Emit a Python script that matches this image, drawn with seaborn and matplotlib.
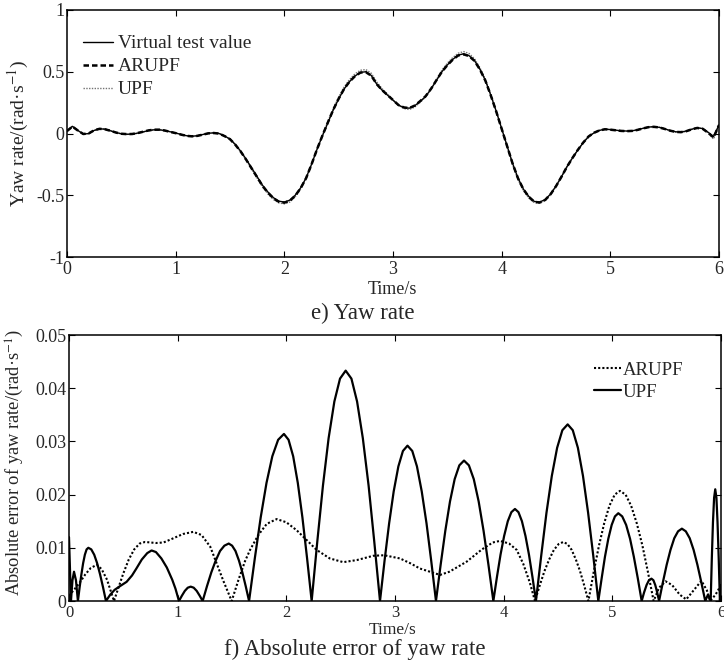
import numpy as np
import pandas as pd
import matplotlib
matplotlib.use("Agg")
import matplotlib.pyplot as plt
import seaborn as sns

# ---------------- data: top panel (yaw rate) ----------------
time_top = np.linspace(0, 6, 121)
virtual = [0.020, 0.058, 0.025, -0.005, 0.000, 0.025, 0.038, 0.035, 0.022, 0.008,
           -0.002, -0.006, -0.005, 0.003, 0.013, 0.024, 0.030, 0.030, 0.024, 0.014,
           0.004, -0.008, -0.018, -0.022, -0.018, -0.008, 0.002, 0.005, 0.000, -0.020,
           -0.045, -0.090, -0.145, -0.210, -0.280, -0.350, -0.420, -0.475, -0.520, -0.548,
           -0.555, -0.540, -0.500, -0.440, -0.360, -0.250, -0.130, -0.020, 0.085, 0.190,
           0.280, 0.360, 0.420, 0.465, 0.495, 0.500, 0.470, 0.400, 0.350, 0.310,
           0.270, 0.230, 0.210, 0.205, 0.225, 0.260, 0.300, 0.360, 0.430, 0.500,
           0.555, 0.600, 0.635, 0.645, 0.630, 0.590, 0.520, 0.430, 0.310, 0.180,
           0.040, -0.100, -0.240, -0.360, -0.450, -0.510, -0.550, -0.555, -0.535, -0.490,
           -0.425, -0.350, -0.270, -0.200, -0.135, -0.075, -0.025, 0.005, 0.025, 0.035,
           0.032, 0.027, 0.022, 0.020, 0.022, 0.030, 0.042, 0.052, 0.055, 0.050,
           0.038, 0.024, 0.014, 0.012, 0.020, 0.035, 0.046, 0.040, 0.010, -0.025,
           0.070]
arupf_top = [0.020, 0.056, 0.024, -0.004, 0.001, 0.026, 0.038, 0.034, 0.022, 0.008,
             -0.002, -0.005, -0.004, 0.004, 0.014, 0.025, 0.031, 0.031, 0.024, 0.013,
             0.003, -0.009, -0.019, -0.023, -0.019, -0.009, 0.001, 0.004, -0.001, -0.021,
             -0.046, -0.092, -0.148, -0.214, -0.284, -0.354, -0.425, -0.480, -0.525, -0.553,
             -0.560, -0.545, -0.504, -0.443, -0.362, -0.251, -0.130, -0.018, 0.088, 0.192,
             0.282, 0.361, 0.420, 0.464, 0.493, 0.497, 0.468, 0.400, 0.351, 0.311,
             0.271, 0.231, 0.211, 0.206, 0.226, 0.262, 0.302, 0.362, 0.432, 0.500,
             0.553, 0.598, 0.632, 0.641, 0.627, 0.588, 0.518, 0.428, 0.308, 0.178,
             0.038, -0.102, -0.242, -0.362, -0.452, -0.513, -0.553, -0.559, -0.538, -0.492,
             -0.427, -0.351, -0.271, -0.200, -0.134, -0.074, -0.024, 0.006, 0.025, 0.034,
             0.031, 0.026, 0.021, 0.019, 0.021, 0.029, 0.041, 0.051, 0.054, 0.049,
             0.037, 0.023, 0.013, 0.011, 0.019, 0.034, 0.045, 0.038, 0.006, -0.032,
             0.068]
upf_top = [0.021, 0.060, 0.026, -0.006, -0.001, 0.024, 0.039, 0.036, 0.023, 0.007,
           -0.003, -0.007, -0.006, 0.002, 0.012, 0.023, 0.030, 0.030, 0.024, 0.014,
           0.004, -0.008, -0.019, -0.024, -0.020, -0.009, 0.002, 0.006, 0.001, -0.020,
           -0.046, -0.093, -0.150, -0.217, -0.290, -0.362, -0.433, -0.490, -0.535, -0.562,
           -0.570, -0.555, -0.513, -0.450, -0.366, -0.252, -0.128, -0.014, 0.095, 0.202,
           0.295, 0.376, 0.437, 0.483, 0.512, 0.518, 0.488, 0.418, 0.362, 0.317,
           0.272, 0.228, 0.202, 0.194, 0.214, 0.252, 0.296, 0.360, 0.437, 0.512,
           0.570, 0.615, 0.650, 0.663, 0.648, 0.605, 0.532, 0.440, 0.316, 0.180,
           0.036, -0.107, -0.250, -0.372, -0.462, -0.523, -0.560, -0.565, -0.545, -0.497,
           -0.430, -0.352, -0.271, -0.199, -0.133, -0.073, -0.022, 0.007, 0.026, 0.035,
           0.031, 0.025, 0.020, 0.018, 0.020, 0.028, 0.040, 0.052, 0.056, 0.051,
           0.038, 0.023, 0.012, 0.009, 0.017, 0.033, 0.046, 0.040, 0.004, -0.045,
           0.060]

# ---------------- data: bottom panel (absolute error) ----------------
t_err_upf = [0.000, 0.018, 0.032, 0.046, 0.064, 0.082,
             0.098, 0.114, 0.130, 0.146, 0.162, 0.178, 0.205, 0.232, 0.259, 0.286, 0.313, 0.340,
             0.380, 0.420, 0.470, 0.530, 0.580, 0.620, 0.670, 0.720, 0.760, 0.800, 0.850,
             0.900, 0.950, 0.980, 1.012,
             1.039, 1.066, 1.093, 1.120, 1.1475, 1.175, 1.2025, 1.230,
             1.270, 1.310, 1.350, 1.390, 1.430, 1.470, 1.501, 1.532, 1.564, 1.595, 1.626, 1.657,
             1.7105, 1.764, 1.8175, 1.871, 1.9245, 1.978, 2.0205, 2.063, 2.1055, 2.148, 2.1905, 2.233,
             2.285, 2.337, 2.389, 2.442, 2.494, 2.546, 2.599, 2.651, 2.704, 2.757, 2.809, 2.862,
             2.904, 2.946, 2.988, 3.031, 3.073, 3.115, 3.159, 3.202, 3.246, 3.290, 3.333, 3.377,
             3.420, 3.463, 3.506, 3.549, 3.592, 3.635, 3.680, 3.725, 3.770, 3.815, 3.860, 3.905,
             3.938, 3.971, 4.004, 4.038, 4.071, 4.104, 4.136, 4.168, 4.201, 4.233, 4.265, 4.297,
             4.346, 4.394, 4.443, 4.492, 4.540, 4.589, 4.636, 4.683, 4.730, 4.777, 4.824, 4.871,
             4.902, 4.932, 4.963, 4.994, 5.024, 5.055, 5.091, 5.127, 5.163, 5.198, 5.234, 5.270,
             5.292, 5.315, 5.337, 5.360, 5.378, 5.395, 5.413, 5.430,
             5.465, 5.500, 5.535, 5.570, 5.605, 5.640, 5.676, 5.712, 5.748, 5.783, 5.819, 5.855,
             5.880, 5.905, 5.9155, 5.926, 5.9365, 5.947, 5.958, 5.968, 5.979, 5.990, 6.000]
err_upf = [0.0120, 0.0000, 0.0039, 0.0055, 0.0039, 0.0000,
           0.0026, 0.0050, 0.0071, 0.0087, 0.0097, 0.0100, 0.0097, 0.0087, 0.0071, 0.0050, 0.0026, 0.0000,
           0.0012, 0.0021, 0.0028, 0.0036, 0.0048, 0.0061, 0.0078, 0.0090, 0.0095, 0.0092, 0.0080,
           0.0063, 0.0040, 0.0023, 0.0000,
           0.0010, 0.0019, 0.0025, 0.0027, 0.0025, 0.0019, 0.0010, 0.0000,
           0.0028, 0.0054, 0.0076, 0.0094, 0.0104, 0.0108, 0.0104, 0.0094, 0.0076, 0.0054, 0.0028, 0.0000,
           0.0081, 0.0157, 0.0222, 0.0272, 0.0303, 0.0314, 0.0303, 0.0272, 0.0222, 0.0157, 0.0081, 0.0000,
           0.0112, 0.0217, 0.0306, 0.0375, 0.0418, 0.0433, 0.0418, 0.0375, 0.0306, 0.0217, 0.0112, 0.0000,
           0.0076, 0.0146, 0.0206, 0.0253, 0.0282, 0.0292, 0.0282, 0.0253, 0.0206, 0.0146, 0.0076, 0.0000,
           0.0068, 0.0132, 0.0187, 0.0229, 0.0255, 0.0264, 0.0255, 0.0229, 0.0187, 0.0132, 0.0068, 0.0000,
           0.0045, 0.0087, 0.0122, 0.0150, 0.0167, 0.0173, 0.0167, 0.0150, 0.0122, 0.0087, 0.0045, 0.0000,
           0.0086, 0.0166, 0.0235, 0.0288, 0.0321, 0.0332, 0.0321, 0.0288, 0.0235, 0.0166, 0.0086, 0.0000,
           0.0043, 0.0083, 0.0117, 0.0143, 0.0159, 0.0165, 0.0159, 0.0143, 0.0117, 0.0083, 0.0043, 0.0000,
           0.0016, 0.0030, 0.0039, 0.0042, 0.0039, 0.0030, 0.0016, 0.0000,
           0.0035, 0.0068, 0.0096, 0.0118, 0.0131, 0.0136, 0.0131, 0.0118, 0.0096, 0.0068, 0.0035, 0.0000,
           0.0012, 0.0000, 0.0080, 0.0148, 0.0194, 0.0210, 0.0194, 0.0148, 0.0080, 0.0000, 0.0030]

t_err_arupf = [0.000, 0.050, 0.100, 0.150, 0.200, 0.255, 0.300, 0.350, 0.390, 0.414,
               0.450, 0.500, 0.550, 0.600, 0.650, 0.700, 0.750, 0.800, 0.870, 0.950,
               1.050, 1.144, 1.220, 1.300, 1.360, 1.420, 1.497, 1.560, 1.620, 1.666,
               1.742, 1.820, 1.911, 2.000, 2.095, 2.190, 2.279, 2.400, 2.524, 2.650,
               2.800, 2.900, 3.046, 3.140, 3.230, 3.414, 3.500, 3.660, 3.800, 3.900,
               3.966, 4.050, 4.120, 4.180, 4.240, 4.288,
               4.3315, 4.375, 4.4185, 4.462, 4.5055, 4.549, 4.5875, 4.626, 4.6645, 4.703, 4.7415, 4.780,
               4.828, 4.877, 4.925, 4.973, 5.022, 5.070, 5.122, 5.173, 5.225, 5.277, 5.328, 5.380,
               5.430, 5.490, 5.550, 5.620, 5.680, 5.740, 5.820, 5.870, 5.900, 5.950, 6.000]
err_arupf = [0.0010, 0.0022, 0.0035, 0.0050, 0.0062, 0.0068, 0.0060, 0.0040, 0.0015, 0.0000,
             0.0022, 0.0052, 0.0078, 0.0097, 0.0108, 0.0111, 0.0110, 0.0109, 0.0110, 0.0117,
             0.0126, 0.0130, 0.0124, 0.0102, 0.0070, 0.0038, 0.0000, 0.0040, 0.0075, 0.0096,
             0.0124, 0.0145, 0.0154, 0.0148, 0.0133, 0.0114, 0.0096, 0.0080, 0.0073, 0.0077,
             0.0085, 0.0086, 0.0080, 0.0071, 0.0061, 0.0049, 0.0055, 0.0074, 0.0097, 0.0110,
             0.0113, 0.0108, 0.0096, 0.0070, 0.0035, 0.0000,
             0.0029, 0.0056, 0.0078, 0.0096, 0.0107, 0.0111, 0.0107, 0.0096, 0.0078, 0.0056, 0.0029, 0.0000,
             0.0054, 0.0104, 0.0146, 0.0179, 0.0200, 0.0207, 0.0200, 0.0179, 0.0146, 0.0104, 0.0054, 0.0000,
             0.0025, 0.0037, 0.0030, 0.0012, 0.0003, 0.0018, 0.0038, 0.0020, 0.0000, 0.0012, 0.0030]

x_ticks = [0, 1, 2, 3, 4, 5, 6]
top_yticks = [-1, -0.5, 0, 0.5, 1]
top_yticklabels = ["-1", "-0.5", "0", "0.5", "1"]
bot_yticks = [0, 0.01, 0.02, 0.03, 0.04, 0.05]
bot_yticklabels = ["0", "0.01", "0.02", "0.03", "0.04", "0.05"]

# ---------------- style ----------------
sns.set_theme(style="ticks")
plt.rcParams["font.family"] = ["Liberation Serif", "DejaVu Serif"]
plt.rcParams["mathtext.fontset"] = "stix"
plt.rcParams["axes.unicode_minus"] = False

fig = plt.figure(figsize=(7.24, 6.72), dpi=100)
W, H = 724.0, 672.0

def ax_rect(l, t, r, b):
    return [l / W, 1 - b / H, (r - l) / W, (b - t) / H]

ax1 = fig.add_axes(ax_rect(67, 10, 719, 257))
ax2 = fig.add_axes(ax_rect(69, 335, 721, 601))

df_top = pd.DataFrame({"t": time_top, "Virtual test value": virtual,
                       "ARUPF": arupf_top, "UPF": upf_top})

sns.lineplot(data=df_top, x="t", y="UPF", ax=ax1, color="0.45", lw=1.0,
             linestyle=(0, (1, 1)), label="UPF")
sns.lineplot(data=df_top, x="t", y="ARUPF", ax=ax1, color="black", lw=1.8,
             linestyle=(0, (2.2, 1.2)), label="ARUPF")
sns.lineplot(data=df_top, x="t", y="Virtual test value", ax=ax1, color="black",
             lw=1.0, label="Virtual test value")

df_upf = pd.DataFrame({"t": t_err_upf, "err": err_upf})
df_arupf = pd.DataFrame({"t": t_err_arupf, "err": err_arupf})
sns.lineplot(data=df_arupf, x="t", y="err", ax=ax2, color="black", lw=1.5,
             linestyle=(0, (1, 1)), label="ARUPF", sort=False)
sns.lineplot(data=df_upf, x="t", y="err", ax=ax2, color="black", lw=1.6,
             label="UPF", sort=False)

for ax in (ax1, ax2):
    ax.set_xlim(0, 6)
    ax.set_xticks(x_ticks)
    ax.set_xticklabels([str(v) for v in x_ticks])
    ax.set_xlabel("")
    ax.set_ylabel("")
    ax.tick_params(direction="in", top=True, right=True, length=4.5, width=0.8,
                   color="black", pad=2)
    for s in ax.spines.values():
        s.set_visible(True)
        s.set_color("black")
        s.set_linewidth(1.1)

ax1.set_ylim(-1, 1)
ax1.set_yticks(top_yticks)
ax1.set_yticklabels(top_yticklabels)
ax1.tick_params(labelsize=13)
ax1.tick_params(axis="x", pad=3)
ax2.set_ylim(0, 0.05)
ax2.set_yticks(bot_yticks)
ax2.set_yticklabels(bot_yticklabels)
ax2.tick_params(axis="y", labelsize=13)
ax2.tick_params(axis="x", labelsize=12, pad=3)

# legends
h, l = ax1.get_legend_handles_labels()
order = [l.index("Virtual test value"), l.index("ARUPF"), l.index("UPF")]
ax1.legend([h[i] for i in order], [l[i] for i in order], loc="upper left",
           bbox_to_anchor=(0.0245, 0.90), frameon=False, fontsize=14,
           handlelength=1.55, handletextpad=0.25, labelspacing=0.28,
           borderpad=0, borderaxespad=0)
h2, l2 = ax2.get_legend_handles_labels()
ax2.legend(h2, l2, loc="upper right", bbox_to_anchor=(0.942, 0.9),
           frameon=False, fontsize=13.5, handlelength=1.45, handletextpad=0.1,
           labelspacing=0.26, borderpad=0, borderaxespad=0)

# labels and captions
fig.text(18 / W, 1 - 134 / H, "Yaw rate/(rad\u00b7s$^{-1}$)", rotation=90,
         ha="center", va="center", fontsize=14)
fig.text(15 / W, 1 - 462 / H, "Absolute error of yaw rate/(rad\u00b7s$^{-1}$)",
         rotation=90, ha="center", va="center", fontsize=13.3)
fig.text(392 / W, 1 - 289 / H, "Time/s", ha="center", va="center", fontsize=13)
fig.text(393 / W, 1 - 630 / H, "Time/s", ha="center", va="center", fontsize=12.5)
fig.text(363 / W, 1 - 313 / H, "e) Yaw rate", ha="center", va="center", fontsize=16.5)
fig.text(355 / W, 1 - 649 / H, "f) Absolute error of yaw rate", ha="center",
         va="center", fontsize=16.5)

fig.savefig("out.png", dpi=100, facecolor="white")
